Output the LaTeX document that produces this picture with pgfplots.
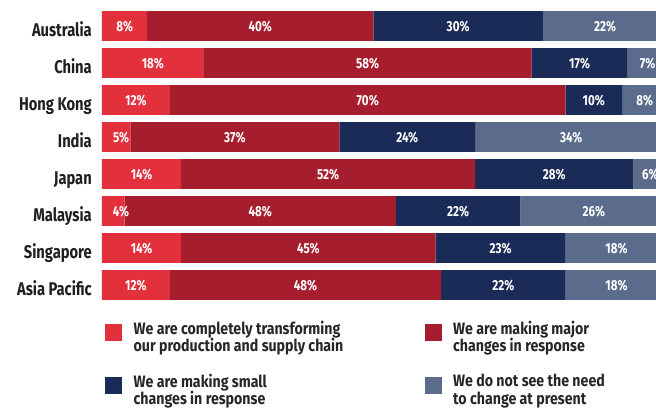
\documentclass[border=0pt]{standalone}
\usepackage{fontspec}
\setmainfont{Fira Sans}[FakeStretch=0.8]
\newfontfamily\legfont{Fira Sans}[FakeStretch=0.86]
\usepackage{pgfplots}
\usepackage{pgfplotstable}
\pgfplotsset{compat=1.18}

\definecolor{c1}{HTML}{E2303D}
\definecolor{c2}{HTML}{A61E2E}
\definecolor{c3}{HTML}{1B2B58}
\definecolor{c4}{HTML}{5B6B8C}

% rows top to bottom: Australia ... Asia Pacific
\pgfplotstableread{
y a b c d
0 8 40 30 22
1 18 58 17 7
2 12 70 10 8
3 5 37 24 34
4 14 52 28 6
5 4 48 22 26
6 14 45 23 18
7 12 48 22 18
}\shares
% label positions: middle of each segment (narrow first segments keep a margin)
\pgfplotstablecreatecol[create col/expr={max(\thisrow{a}/2,3.36)}]{ma}\shares
\pgfplotstablecreatecol[create col/expr={\thisrow{a}+\thisrow{b}/2}]{mb}\shares
\pgfplotstablecreatecol[create col/expr={\thisrow{a}+\thisrow{b}+\thisrow{c}/2}]{mc}\shares
\pgfplotstablecreatecol[create col/expr={\thisrow{a}+\thisrow{b}+\thisrow{c}+\thisrow{d}/2}]{md}\shares

\newcommand\legtext[2]{\parbox{291pt}{#1\\#2}}

\pgfplotsset{
  frame/.style={at={(102pt,-7.5pt)}, anchor=north west,
    scale only axis, width=554pt, height=296pt,
    xmin=0, xmax=98, ymin=-0.5, ymax=7.5, y dir=reverse},
  seglabel/.style={only marks, mark=*, mark size=0pt,
    mark options={draw=none, fill=none},
    point meta=explicit symbolic, nodes near coords={\pgfplotspointmeta\%},
    every node near coord/.append style={font=\bfseries\fontsize{14.5}{14.5}\selectfont,
      text=white, anchor=center, yshift=-0.75pt}},
}

\begin{document}
\begin{tikzpicture}
\useasboundingbox (0,0) rectangle (656pt,-408pt);
\clip (0,0) rectangle (656pt,-408pt);
\begin{axis}[
  frame,
  xbar stacked, bar width=0.81,
  axis line style={draw=none}, major tick length=0pt,
  xtick=\empty, ytick={0,...,7},
  yticklabels={Australia,China,Hong Kong,India,Japan,Malaysia,Singapore,Asia Pacific},
  yticklabel style={font=\bfseries\fontsize{18.4}{20}\selectfont, text=black!88,
    anchor=base east, inner sep=0pt, xshift=-10pt, yshift=-10.7pt},
  legend columns=2,
  legend image code/.code={\fill[#1] (0pt,-8.5pt) rectangle (17pt,8.5pt);},
  legend style={draw=none, fill=none, at={(0,0)}, anchor=north west,
    xshift=3pt, yshift=-17pt, inner sep=0pt, row sep=30pt,
    nodes={inner sep=0pt, anchor=west},
    font=\legfont\bfseries\fontsize{16.5}{17.7}\selectfont, text=black!85,
    /tikz/every odd column/.append style={column sep=11.5pt}},
]
\addplot[fill=c1, draw=none] table[x=a, y=y]{\shares};
\addlegendentry{\legtext{We are completely transforming}{our production and supply chain}}
\addplot[fill=c2, draw=none] table[x=b, y=y]{\shares};
\addlegendentry{\legtext{We are making major}{changes in response}}
\addplot[fill=c3, draw=none] table[x=c, y=y]{\shares};
\addlegendentry{\legtext{We are making small}{changes in response}}
\addplot[fill=c4, draw=none] table[x=d, y=y]{\shares};
\addlegendentry{\legtext{We do not see the need}{to change at present}}
\end{axis}
\begin{axis}[frame, hide axis, clip=false]
\addplot[seglabel] table[x=ma, y=y, meta=a]{\shares};
\addplot[seglabel] table[x=mb, y=y, meta=b]{\shares};
\addplot[seglabel] table[x=mc, y=y, meta=c]{\shares};
\addplot[seglabel] table[x=md, y=y, meta=d]{\shares};
\end{axis}
\end{tikzpicture}
\end{document}
